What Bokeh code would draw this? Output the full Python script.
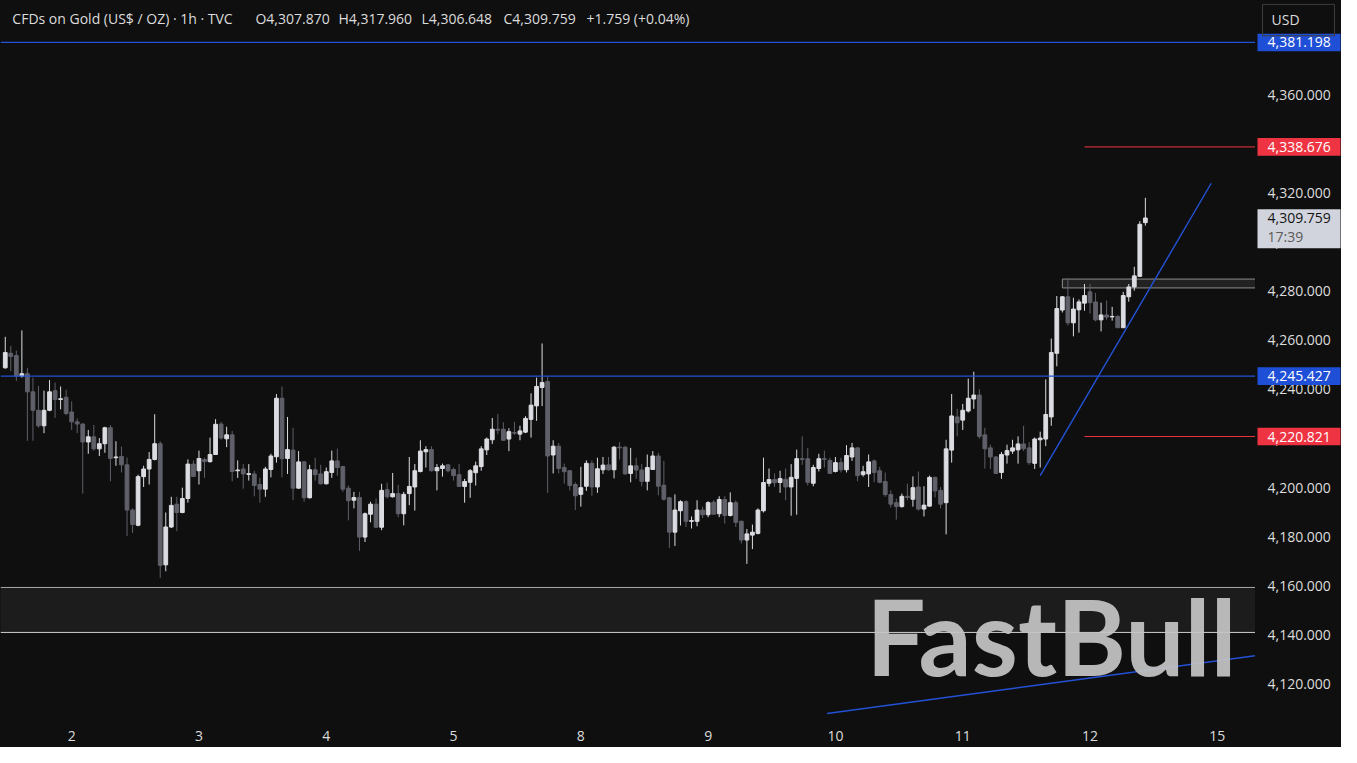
import numpy as np
from bokeh.plotting import figure
from bokeh.layouts import row
from bokeh.models import (Range1d, FixedTicker, Span, Label, ColumnDataSource)
from bokeh.embed import file_html
from bokeh.resources import INLINE
from bokeh.core.properties import value

# ---------------- data ----------------
opens = [4248.8, 4254.7, 4253.8, 4245.4, 4246.4, 4239.0, 4231.5, 4225.2, 4231.5, 4239.5,
         4235.9, 4236.8, 4230.8, 4226.8, 4225.9, 4218.6, 4220.7, 4215.8, 4217.9, 4224.4,
         4212.2, 4212.7, 4209.3, 4190.9, 4184.7, 4204.5, 4207.6, 4211.5, 4217.9, 4168.6,
         4184.0, 4193.3, 4189.9, 4195.6, 4209.6, 4206.9, 4211.5, 4210.6, 4213.5, 4225.9,
         4219.9, 4221.5, 4206.9, 4207.6, 4205.4, 4205.6, 4201.3, 4199.4, 4207.4, 4212.6,
         4236.4, 4211.9, 4215.3, 4199.8, 4210.5, 4195.9, 4207.3, 4205.6, 4201.6, 4206.2,
         4210.9, 4208.6, 4199.8, 4194.9, 4196.0, 4179.9, 4189.2, 4193.3, 4183.9, 4199.2,
         4196.3, 4197.6, 4189.4, 4197.6, 4200.3, 4206.6, 4214.6, 4215.5, 4206.9, 4207.8,
         4209.3, 4207.4, 4205.3, 4200.5, 4202.2, 4206.1, 4208.6, 4215.4, 4219.5, 4223.8,
         4223.8, 4219.8, 4222.4, 4221.8, 4222.6, 4227.8, 4233.3, 4240.8, 4243.2, 4213.3,
         4216.9, 4208.2, 4206.9, 4201.3, 4197.3, 4200.6, 4209.9, 4200.3, 4207.3, 4209.3,
         4207.3, 4216.5, 4216.5, 4205.8, 4208.9, 4207.2, 4202.6, 4207.4, 4212.9, 4201.0,
         4195.9, 4181.9, 4190.6, 4194.3, 4186.3, 4186.3, 4190.9, 4189.0, 4194.1, 4189.4,
         4195.2, 4188.7, 4193.9, 4186.3, 4178.7, 4180.7, 4181.4, 4190.6, 4201.8, 4203.3,
         4202.1, 4203.4, 4200.3, 4203.8, 4211.8, 4211.8, 4201.8, 4207.8, 4211.8, 4211.1,
         4206.6, 4210.2, 4207.3, 4212.5, 4216.2, 4205.3, 4205.6, 4210.9, 4206.9, 4202.5,
         4197.2, 4193.9, 4192.3, 4196.5, 4195.3, 4200.3, 4191.3, 4192.5, 4204.2, 4198.9,
         4193.9, 4215.3, 4228.8, 4227.5, 4231.2, 4236.1, 4237.7, 4221.5, 4216.2, 4212.5,
         4206.2, 4213.3, 4214.9, 4215.4, 4217.8, 4216.2, 4209.9, 4219.5, 4219.8, 4228.8,
         4254.7, 4272.3, 4277.7, 4267.1, 4272.4, 4275.1, 4279.7, 4275.6, 4268.3, 4270.3,
         4269.5, 4269.7, 4265.1, 4277.7, 4281.7, 4286.0, 4307.87]

highs = [4261.4, 4257.7, 4255.8, 4264.0, 4248.8, 4244.8, 4241.4, 4239.5, 4243.8, 4242.8,
         4241.2, 4239.9, 4235.1, 4228.2, 4226.2, 4223.5, 4225.5, 4220.2, 4224.8, 4225.5,
         4218.9, 4216.7, 4212.2, 4191.6, 4205.3, 4208.9, 4214.5, 4229.9, 4218.9, 4189.9,
         4196.3, 4196.3, 4200.0, 4211.5, 4211.1, 4215.1, 4212.2, 4220.4, 4227.9, 4226.8,
         4224.8, 4223.1, 4211.1, 4209.6, 4209.6, 4206.9, 4204.0, 4208.5, 4213.8, 4238.1,
         4241.2, 4228.8, 4224.4, 4214.9, 4210.9, 4209.3, 4212.2, 4209.3, 4208.2, 4215.1,
         4215.9, 4208.9, 4200.9, 4198.3, 4198.3, 4189.9, 4194.3, 4195.6, 4201.6, 4202.0,
         4206.0, 4201.2, 4198.3, 4212.5, 4209.6, 4219.3, 4216.9, 4216.9, 4209.6, 4209.8,
         4209.6, 4208.2, 4209.6, 4203.6, 4207.6, 4210.6, 4216.9, 4220.4, 4228.4, 4230.0,
         4226.6, 4224.2, 4226.8, 4225.2, 4229.1, 4238.4, 4244.8, 4258.7, 4245.2, 4219.3,
         4218.2, 4209.8, 4207.2, 4202.2, 4208.5, 4211.1, 4211.1, 4212.2, 4212.5, 4212.5,
         4216.9, 4218.6, 4216.9, 4216.2, 4212.2, 4209.6, 4213.5, 4214.9, 4214.2, 4210.9,
         4196.3, 4197.3, 4194.9, 4194.9, 4188.3, 4194.9, 4192.3, 4194.5, 4194.9, 4196.5,
         4196.5, 4198.1, 4194.9, 4186.7, 4183.2, 4185.0, 4191.6, 4212.2, 4207.8, 4205.8,
         4206.9, 4207.8, 4209.6, 4215.5, 4220.9, 4216.2, 4209.3, 4213.8, 4215.1, 4212.2,
         4212.5, 4212.2, 4217.3, 4218.2, 4216.5, 4208.9, 4213.5, 4211.5, 4208.5, 4206.2,
         4198.9, 4195.6, 4197.6, 4201.6, 4204.6, 4206.6, 4200.6, 4204.9, 4204.5, 4200.3,
         4219.5, 4238.1, 4232.1, 4234.1, 4244.4, 4247.2, 4240.1, 4224.4, 4217.5, 4212.9,
         4214.5, 4217.5, 4219.5, 4220.9, 4225.2, 4218.6, 4220.4, 4222.8, 4244.1, 4260.7,
         4278.0, 4278.0, 4285.3, 4277.3, 4276.6, 4282.9, 4282.9, 4279.3, 4275.3, 4276.2,
         4273.6, 4270.3, 4279.7, 4282.9, 4289.9, 4308.5, 4317.96]

lows = [4248.4, 4247.4, 4243.4, 4244.8, 4219.1, 4219.1, 4224.4, 4222.2, 4231.1, 4228.4,
        4231.9, 4229.5, 4223.5, 4222.2, 4197.6, 4213.8, 4215.1, 4212.9, 4214.2, 4202.6,
        4208.9, 4206.2, 4180.3, 4181.6, 4184.3, 4200.3, 4201.3, 4211.1, 4163.3, 4166.0,
        4183.6, 4182.3, 4189.6, 4193.9, 4204.5, 4201.3, 4204.0, 4210.2, 4213.3, 4219.5,
        4216.5, 4202.6, 4204.0, 4199.6, 4202.9, 4196.5, 4193.9, 4196.3, 4204.2, 4210.2,
        4204.2, 4205.6, 4194.9, 4199.6, 4194.3, 4195.6, 4202.9, 4201.3, 4201.3, 4204.0,
        4204.9, 4198.3, 4186.7, 4191.6, 4174.3, 4177.9, 4185.9, 4183.9, 4182.7, 4195.6,
        4196.0, 4188.0, 4184.7, 4192.9, 4190.7, 4206.2, 4208.2, 4206.6, 4198.9, 4204.5,
        4206.2, 4202.9, 4200.3, 4193.9, 4195.9, 4200.9, 4206.9, 4213.3, 4217.8, 4221.8,
        4219.1, 4214.9, 4221.5, 4219.3, 4222.2, 4220.4, 4227.2, 4233.2, 4197.9, 4205.8,
        4205.8, 4201.6, 4198.9, 4190.9, 4192.3, 4198.7, 4196.7, 4197.9, 4205.6, 4206.9,
        4203.8, 4211.5, 4205.3, 4202.2, 4203.6, 4200.5, 4198.9, 4207.2, 4196.9, 4194.7,
        4175.5, 4176.3, 4184.6, 4184.0, 4183.4, 4184.3, 4187.6, 4188.0, 4189.0, 4188.0,
        4185.4, 4188.3, 4184.0, 4177.3, 4169.0, 4175.0, 4181.0, 4189.9, 4200.5, 4200.3,
        4197.9, 4194.9, 4188.6, 4189.0, 4209.3, 4200.9, 4200.6, 4206.6, 4208.2, 4205.6,
        4206.2, 4206.2, 4206.2, 4210.9, 4202.6, 4204.5, 4200.3, 4202.2, 4201.8, 4196.3,
        4191.9, 4187.0, 4191.9, 4194.9, 4192.3, 4190.7, 4188.3, 4192.3, 4196.0, 4191.6,
        4181.0, 4210.2, 4220.9, 4223.5, 4230.6, 4232.1, 4219.9, 4207.8, 4207.6, 4205.6,
        4203.6, 4209.8, 4213.8, 4209.8, 4214.9, 4209.3, 4207.6, 4208.2, 4216.9, 4225.2,
        4249.4, 4271.3, 4266.0, 4261.6, 4263.1, 4272.0, 4270.9, 4267.7, 4263.6, 4268.3,
        4268.0, 4265.1, 4265.1, 4275.7, 4280.2, 4286.0, 4306.648]

closes = [4255.0, 4253.4, 4245.4, 4246.4, 4239.0, 4231.5, 4225.2, 4231.5, 4239.0, 4235.9,
          4236.2, 4230.2, 4226.8, 4225.9, 4218.6, 4220.7, 4215.8, 4217.9, 4224.4, 4211.9,
          4212.5, 4209.3, 4190.9, 4185.0, 4204.5, 4207.6, 4211.5, 4217.9, 4168.4, 4184.0,
          4192.8, 4189.9, 4195.6, 4209.6, 4204.6, 4211.9, 4210.6, 4213.5, 4225.8, 4220.2,
          4221.5, 4206.6, 4207.2, 4205.6, 4205.7, 4200.9, 4199.4, 4207.6, 4212.9, 4236.4,
          4211.8, 4215.5, 4199.8, 4210.5, 4195.9, 4207.3, 4205.3, 4201.6, 4206.5, 4210.9,
          4208.2, 4199.4, 4194.7, 4196.0, 4179.9, 4189.4, 4193.3, 4183.9, 4198.9, 4196.3,
          4197.6, 4189.4, 4197.3, 4200.5, 4206.9, 4214.9, 4215.5, 4206.9, 4208.2, 4208.9,
          4206.9, 4204.9, 4200.5, 4202.5, 4206.9, 4208.9, 4215.8, 4219.8, 4223.8, 4223.4,
          4219.3, 4222.8, 4222.2, 4223.1, 4228.2, 4233.6, 4241.2, 4242.8, 4212.9, 4216.9,
          4207.8, 4206.5, 4200.9, 4196.7, 4200.0, 4209.9, 4200.3, 4207.7, 4209.2, 4207.3,
          4216.5, 4216.2, 4205.6, 4208.9, 4207.2, 4202.6, 4208.2, 4212.9, 4200.6, 4195.3,
          4181.9, 4190.9, 4194.3, 4186.3, 4186.6, 4190.9, 4189.0, 4193.9, 4189.2, 4195.2,
          4188.7, 4193.9, 4185.9, 4178.7, 4181.2, 4181.9, 4190.9, 4202.1, 4203.3, 4202.0,
          4203.7, 4200.3, 4204.2, 4211.8, 4211.5, 4202.2, 4208.2, 4211.8, 4211.5, 4205.8,
          4210.2, 4207.3, 4213.1, 4216.2, 4204.9, 4206.5, 4210.5, 4206.2, 4202.2, 4197.2,
          4193.3, 4192.3, 4196.5, 4196.0, 4200.0, 4191.3, 4192.9, 4204.2, 4198.7, 4193.3,
          4215.8, 4229.2, 4226.4, 4231.5, 4236.4, 4237.7, 4220.9, 4215.8, 4212.5, 4205.8,
          4213.5, 4215.1, 4216.2, 4217.8, 4215.9, 4210.2, 4219.8, 4220.2, 4229.8, 4255.0,
          4272.9, 4277.7, 4267.1, 4272.7, 4275.6, 4278.2, 4275.3, 4268.3, 4270.3, 4269.4,
          4269.7, 4265.1, 4278.2, 4281.7, 4286.2, 4307.2, 4309.759]

day_labels = ["2", "3", "4", "5", "8", "9", "10", "11", "12", "15"]
bars_per_day = 23
first_day_bar = 12
price_ticks = [4120, 4140, 4160, 4180, 4200, 4220, 4240, 4260, 4280, 4300, 4320, 4340, 4360]

blue_levels = [4381.198, 4245.427]
red_levels = [4338.676, 4220.821]
red_start_bar = 195
last_price = 4309.759
countdown = "17:39"
zone_low, zone_high = 4141.1, 4159.4
box_start_bar, box_low, box_high = 191, 4281.3, 4284.9
trend1_x, trend1_y = [187.0, 217.9], [4204.9, 4323.9]
trend2_x, trend2_y = [148.5, 226.5], [4108.1, 4131.8]

header_parts = ["CFDs on Gold (US$ / OZ) · 1h · TVC", "O4,307.870", "H4,317.960",
                "L4,306.648", "C4,309.759", "+1.759 (+0.04%)"]
currency = "USD"
watermark = "FastBull"

# ---------------- styling ----------------
BG = "#0f0f0f"
UP = "#dcdde2"
DOWN = "#5f6069"
BLUE = "#2352d6"
BLUE_BOX = "#1f4fd6"
RED = "#ee3442"
TXT = "#dcdcdc"
FONT = "Open Sans"
FS = "14px"
HEADER_X_PX = [12, 258, 342, 426, 509, 593]   # left edge of each header part (ref px)

MAIN_W, SCALE_W, H, BOTTOM_H = 1255, 86, 747, 26
X0, X1 = -0.86, 225.9
Y0, Y1 = 4104.85, 4398.27
REF_W, REF_H = 1270.0, 736.0   # plot frame of the reference, in px


def rx(px):
    return X0 + px / REF_W * (X1 - X0)


def ry(py):
    return Y1 - py / REF_H * (Y1 - Y0)


KY = (Y1 - Y0) / REF_H   # price per reference pixel
y_range = Range1d(Y0, Y1)
host_style = {"background-color": BG}

# ---------------- main chart ----------------
p = figure(width=MAIN_W, height=H, output_backend="svg", toolbar_location=None,
           x_range=Range1d(X0, X1), y_range=y_range, y_axis_location=None,
           background_fill_color=BG, border_fill_color=None,
           min_border_left=0, min_border_top=0, min_border_right=0,
           min_border_bottom=BOTTOM_H, styles=host_style)
p.outline_line_color = None
p.xgrid.visible = False
p.ygrid.visible = False

day_ticks = [first_day_bar + i * bars_per_day for i in range(len(day_labels))]
p.xaxis.ticker = FixedTicker(ticks=day_ticks)
p.xaxis.major_label_overrides = {t: lab for t, lab in zip(day_ticks, day_labels)}
p.xaxis.axis_line_color = None
p.xaxis.major_tick_line_color = None
p.xaxis.minor_tick_line_color = None
p.xaxis.major_label_standoff = 3
p.xaxis.major_label_text_color = TXT
p.xaxis.major_label_text_font_size = FS
p.xaxis.major_label_text_font = FONT

# zone rectangle
p.quad(left=[X0 - 5], right=[X1 + 20], bottom=[zone_low], top=[zone_high],
       fill_color="#1c1c1c", line_color=None)
p.add_layout(Span(location=zone_high, dimension="width", line_color="#a9a9a9", line_width=1))
p.add_layout(Span(location=zone_low, dimension="width", line_color="#cfcfcf", line_width=1))

# small box near top
p.quad(left=[box_start_bar], right=[X1 + 20], bottom=[box_low], top=[box_high],
       fill_color="#222222", line_color="#8e8e8e", line_width=1)

# horizontal levels
for lv in blue_levels:
    p.add_layout(Span(location=lv, dimension="width", line_color=BLUE, line_width=1.2))
p.segment(x0=[red_start_bar] * len(red_levels), x1=[X1 + 20] * len(red_levels),
          y0=red_levels, y1=red_levels, line_color=RED, line_width=1)

# candles
o = np.array(opens); h = np.array(highs); l = np.array(lows); c = np.array(closes)
idx = np.arange(len(o))
inc = c >= o
for mask, col in ((inc, UP), (~inc, DOWN)):
    src = ColumnDataSource(dict(x=idx[mask], high=h[mask], low=l[mask],
                                top=np.maximum(o, c)[mask], bottom=np.minimum(o, c)[mask]))
    p.segment(x0="x", y0="high", x1="x", y1="low", source=src, line_color=col, line_width=1)
    p.vbar(x="x", width=0.68, top="top", bottom="bottom", source=src,
           fill_color=col, line_color=col, line_width=1)

# trend lines
p.line(trend1_x, trend1_y, line_color=BLUE, line_width=1.4)
p.line(trend2_x, trend2_y, line_color=BLUE, line_width=1.4)

# header
for part, hx in zip(header_parts, HEADER_X_PX):
    p.add_layout(Label(x=rx(hx), y=ry(18), text=part, text_color=TXT,
                       text_font=FONT, text_font_size=FS,
                       text_baseline="middle", text_align="left"))

# watermark (partly over the zone, as in the reference)
p.add_layout(Label(x=rx(876), y=ry(648), text=watermark, text_color="#c4c4c4", text_alpha=0.93,
                   text_font="Lato", text_font_style="bold", text_font_size="105px",
                   text_baseline="alphabetic", text_align="left", level="overlay"))

# ---------------- price scale (right) ----------------
s = figure(width=SCALE_W, height=H, output_backend="svg", toolbar_location=None,
           x_range=Range1d(0, SCALE_W), y_range=y_range,
           x_axis_location=None, y_axis_location=None,
           background_fill_color=BG, border_fill_color=None,
           min_border_left=0, min_border_top=0, min_border_right=0,
           min_border_bottom=BOTTOM_H, styles=host_style)
s.outline_line_color = None
s.xgrid.visible = False
s.ygrid.visible = False

LX = 12  # label inset from the chart edge (px)
s.text(x=[LX] * len(price_ticks), y=price_ticks, text=[f"{t:,.3f}" for t in price_ticks],
       text_color=TXT, text_font=value(FONT), text_font_size=FS,
       text_baseline="middle", text_align="left")

box_levels = blue_levels + red_levels
box_colors = [BLUE_BOX] * len(blue_levels) + [RED] * len(red_levels)
s.quad(left=[2] * len(box_levels), right=[SCALE_W - 1] * len(box_levels),
       bottom=[lv - 9 * KY for lv in box_levels], top=[lv + 9 * KY for lv in box_levels],
       fill_color=box_colors, line_color=None)
s.text(x=[LX] * len(box_levels), y=box_levels, text=[f"{lv:,.3f}" for lv in box_levels],
       text_color="#ffffff", text_font=value(FONT), text_font_size=FS,
       text_baseline="middle", text_align="left")

s.quad(left=[2], right=[SCALE_W - 1], bottom=[last_price - 31 * KY], top=[last_price + 9 * KY],
       fill_color="#d1d4dc", line_color=None)
s.text(x=[LX], y=[last_price], text=[f"{last_price:,.3f}"], text_color="#131313",
       text_font=value(FONT), text_font_size=FS, text_baseline="middle", text_align="left")
s.text(x=[LX], y=[last_price - 19 * KY], text=[countdown], text_color="#5a5a5a",
       text_font=value(FONT), text_font_size=FS, text_baseline="middle", text_align="left")

# currency button
s.quad(left=[7], right=[SCALE_W - 7], bottom=[ry(36)], top=[ry(4)],
       fill_color=None, line_color="#3c3c3c", line_width=1)
s.text(x=[16], y=[ry(19)], text=[currency], text_color=TXT,
       text_font=value(FONT), text_font_size=FS, text_baseline="middle", text_align="left")

layout = row(p, s, spacing=0, styles=host_style)
open("out.html", "w").write(file_html(layout, INLINE))
